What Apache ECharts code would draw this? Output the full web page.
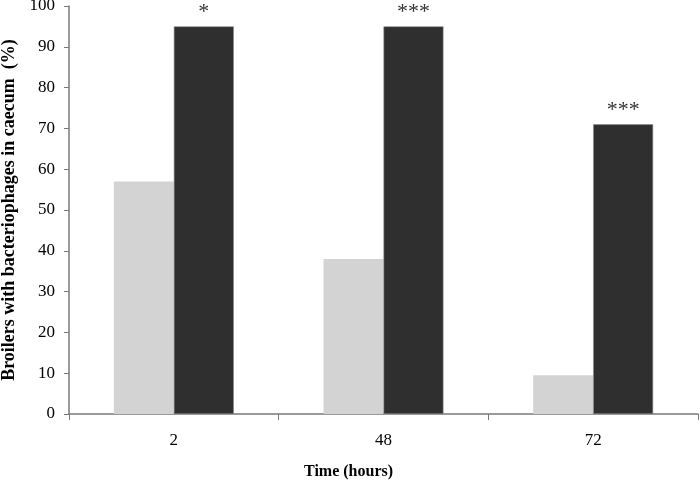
<!DOCTYPE html>
<html><head><meta charset="utf-8">
<script src="https://cdn.jsdelivr.net/npm/echarts@6/dist/echarts.min.js"></script>
<style>html,body{margin:0;padding:0;background:#fff}#c{width:700px;height:485px}</style>
</head><body><div id="c"></div>
<script>
const categories = ['2', '48', '72'];
const lightValues = [57, 38, 9.5];
const darkValues = [95, 95, 71];
const significance = ['*', '***', '***'];
const yTicks = [0, 10, 20, 30, 40, 50, 60, 70, 80, 90, 100];

const chart = echarts.init(document.getElementById('c'));
const serif = '"Liberation Serif", "Times New Roman", serif';
chart.setOption({
  animation: false,
  title: {
    text: 'Time (hours)', left: 299, top: 459,
    textStyle: { fontFamily: serif, fontWeight: 'bold', fontSize: 16, color: '#000' }
  },
  grid: { left: 69, right: 2, top: 6, bottom: 71, containLabel: false, outerBoundsMode: 'none' },
  xAxis: {
    type: 'category', data: categories,
    axisLine: { lineStyle: { color: '#7a7a7a', width: 1.5 } },
    axisTick: { show: true, length: 6, lineStyle: { color: '#7a7a7a' } },
    axisLabel: { fontFamily: serif, fontSize: 17, color: '#000', margin: 18 }
  },
  yAxis: {
    type: 'value', min: yTicks[0], max: yTicks[yTicks.length - 1], interval: 10,
    name: 'Broilers with bacteriophages in caecum  (%)', nameLocation: 'middle', nameGap: 47,
    nameTextStyle: { fontFamily: serif, fontWeight: 'bold', fontSize: 18, color: '#000' },
    axisLine: { show: true, lineStyle: { color: '#7a7a7a', width: 1.5 } },
    axisTick: { show: true, length: 5, lineStyle: { color: '#7a7a7a' } },
    axisLabel: { fontFamily: serif, fontSize: 17, color: '#000', margin: 14 },
    splitLine: { show: false }
  },
  series: [
    { type: 'bar', data: lightValues, barGap: '0%', barCategoryGap: '42.8%',
      itemStyle: { color: '#d3d3d3' } },
    { type: 'bar', data: darkValues,
      itemStyle: { color: '#2f2f2f', borderColor: '#8a8a8a', borderWidth: 0.6 },
      label: { show: true, position: 'top', distance: 3,
        formatter: p => significance[p.dataIndex],
        fontFamily: serif, fontSize: 22, color: '#333' } }
  ]
});
</script></body></html>
